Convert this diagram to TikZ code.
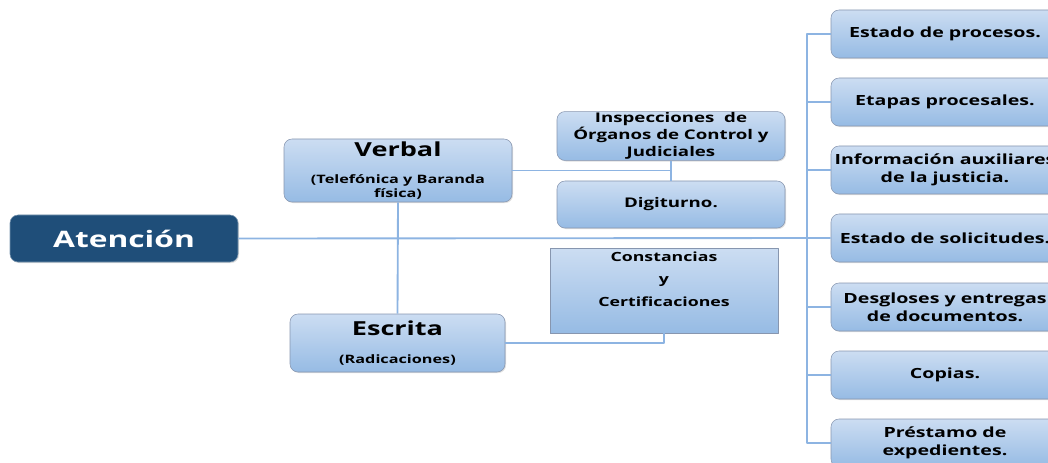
\documentclass[tikz,border=0pt]{standalone}
\usepackage{fontspec}
\setmainfont{Open Sans}[FakeStretch=1.4]
\usetikzlibrary{shadows}
\definecolor{boxtop}{RGB}{204,221,242}
\definecolor{boxbot}{RGB}{150,187,228}
\definecolor{boxline}{RGB}{135,150,175}
\definecolor{linkblue}{RGB}{141,180,226}
\definecolor{darkbox}{RGB}{31,78,121}
\begin{document}
\begin{tikzpicture}[x=0.75pt,y=-0.75pt, font=\bfseries, line join=round,
  box/.style={draw=boxline, rounded corners=6pt, top color=boxtop, bottom color=boxbot,
    minimum width=171pt, minimum height=36pt, align=center, inner sep=1pt,
    drop shadow={opacity=0.25, shadow xshift=0.8pt, shadow yshift=-0.8pt}},
  sidebox/.style={box, font=\fontsize{10.5}{13.5}\selectfont\bfseries},
  link/.style={draw=linkblue, line width=1.4pt}]
\clip (0,0) rectangle (1048,463);
% main node
\node[box, draw=darkbox!60, top color=darkbox, bottom color=darkbox, text=white,
  minimum height=35.25pt, font=\fontsize{17}{20}\selectfont\bfseries] (atencion) at (124,238.5) {Atención};
% left branch
\node[box, minimum height=47.25pt, font=\fontsize{8.7}{10.5}\selectfont\bfseries] (verbal) at (398,170.5)
  {{\fontsize{14.5}{17}\selectfont Verbal}\\[10pt](Telefónica y Baranda\\física)};
\node[box, minimum width=161.25pt, minimum height=43.5pt, font=\fontsize{8.7}{10.5}\selectfont\bfseries] (escrita) at (397.5,343)
  {{\fontsize{14.5}{17}\selectfont Escrita}\\[11pt](Radicaciones)};
\node[box, font=\fontsize{10}{12.5}\selectfont\bfseries] (inspecciones) at (671,136)
  {Inspecciones~~de\\Órganos de Control y\\Judiciales};
\node[box, minimum height=35.25pt, font=\fontsize{10}{12.5}\selectfont\bfseries] (digiturno) at (671,204.5) {Digiturno.};
\node[box, rounded corners=0pt, minimum height=63.75pt, font=\fontsize{9.5}{17}\selectfont\bfseries] (constancias) at (664,290.5)
  {Constancias\\y\\Certificaciones\\[0pt]\mbox{}};
% right column
\node[sidebox] (procesos) at (945,34) {Estado de procesos.};
\node[sidebox] (etapas) at (945,102) {Etapas procesales.};
\node[sidebox] (auxiliares) at (945,170) {Información auxiliares\\de la justicia.};
\node[sidebox] (solicitudes) at (945,238) {Estado de solicitudes.};
\node[sidebox] (desgloses) at (945,307) {Desgloses y entregas\\de documentos.};
\node[sidebox] (copias) at (945,375) {Copias.};
\node[sidebox] (prestamo) at (945,443) {Préstamo de\\expedientes.};
% connectors
\coordinate (bus) at (807,238);
\draw[link] (atencion.east) -- (solicitudes.west);
\foreach \n in {procesos,etapas,auxiliares,desgloses,copias,prestamo}
  \draw[link] (bus) |- (\n.west);
\draw[link] (verbal.south) -- (escrita.north);
\draw[link] (verbal.east) -| (inspecciones.south);
\draw[link] (inspecciones.south) -- (digiturno.north);
\draw[link] (escrita.east) -| (constancias.south);
\end{tikzpicture}
\end{document}
